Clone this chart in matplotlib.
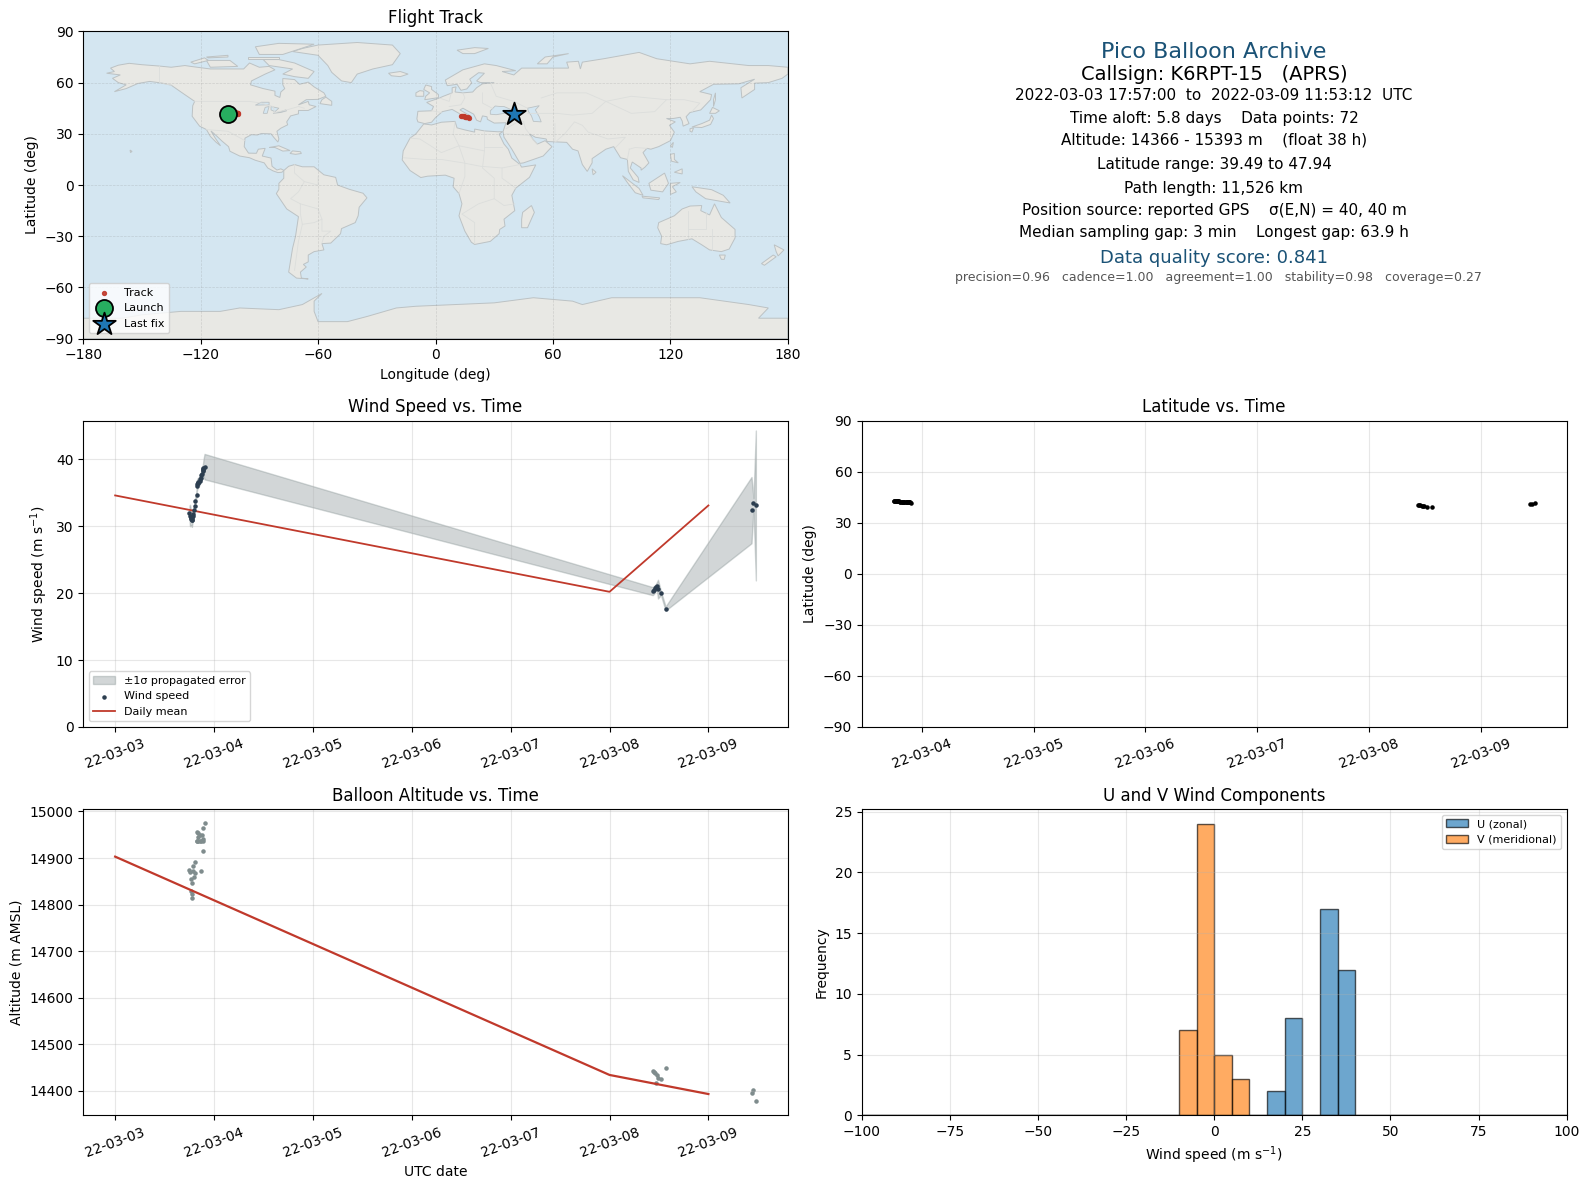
import numpy as np
import pandas as pd
import matplotlib
matplotlib.use("Agg")
import matplotlib.pyplot as plt
import matplotlib.dates as mdates
from matplotlib.patches import Polygon

# flight samples, days after 2022-03-03 00:00 UTC
days = [0.752, 0.757, 0.766, 0.772, 0.776, 0.779, 0.782, 0.787, 0.790, 0.797, 0.803, 0.810, 0.823, 0.826,
        0.830, 0.836, 0.840, 0.843, 0.856, 0.860, 0.865, 0.872, 0.878, 0.885, 0.888, 0.890, 0.893, 0.904,
        5.437, 5.450, 5.460, 5.470, 5.478, 5.490, 5.520, 5.567,
        6.436, 6.456, 6.480]
speed = [32.0, 31.6, 31.3, 31.1, 30.9, 31.0, 31.2, 31.5, 31.8, 32.4, 33.0, 33.8, 34.7, 36.0,
         36.3, 36.4, 36.5, 36.6, 36.8, 37.0, 37.2, 37.6, 37.8, 38.2, 38.4, 38.5, 38.7, 38.9,
         20.3, 20.5, 20.7, 20.9, 21.1, 20.6, 20.0, 17.7,
         32.4, 33.4, 33.1]
speed_err = [1.0, 1.6, 1.2, 1.0, 1.0, 0.8, 0.7, 0.6, 0.6, 0.5, 0.5, 0.5, 0.5, 0.8,
             0.8, 0.7, 0.7, 0.7, 0.6, 0.6, 0.7, 0.7, 0.8, 0.8, 0.9, 1.0, 1.2, 1.9,
             0.6, 0.6, 0.5, 0.5, 0.5, 1.4, 0.3, 0.3,
             4.95, 0.8, 11.2]
altitude = [14875, 14870, 14855, 14830, 14815, 14847, 14823, 14883, 14873, 14860, 14892, 14868, 14936, 14956,
            14936, 14953, 14936, 14945, 14950, 14936, 14872, 14936, 14950, 14915, 14940, 14965, 14936, 14975,
            14442, 14441, 14439, 14417, 14433, 14428, 14426, 14449,
            14395, 14402, 14377]
latitude = [42.7, 42.7, 42.7, 42.7, 42.7, 42.6, 42.6, 42.6, 42.6, 42.6, 42.5, 42.5, 42.5, 42.4,
            42.4, 42.4, 42.3, 42.3, 42.3, 42.2, 42.2, 42.2, 42.1, 42.1, 42.1, 42.0, 42.0, 41.9,
            40.4, 40.4, 40.3, 40.2, 40.1, 39.9, 39.6, 39.5,
            41.0, 41.3, 41.7]
longitude = [-105.0, -104.8, -104.6, -104.4, -104.2, -104.0, -103.8, -103.6, -103.4, -103.2, -103.0, -102.8,
             -102.6, -102.4, -102.3, -102.2, -102.1, -102.0, -101.9, -101.8, -101.7, -101.6, -101.5, -101.4,
             -101.3, -101.2, -101.1, -101.0,
             13.0, 13.5, 14.0, 14.5, 15.0, 15.6, 16.4, 17.3,
             40.0, 40.2, 40.3]
u_wind = [22.5, 23.0, 31.0, 30.8, 30.7, 30.8, 31.0, 31.3, 31.6, 32.0, 32.6, 33.4, 34.0, 34.5, 34.8, 34.9,
          35.2, 35.4, 35.6, 35.8, 36.0, 36.3, 36.5, 36.8, 37.2, 37.6, 38.0, 38.6,
          20.1, 20.3, 20.5, 20.7, 21.0, 20.4, 19.9, 17.7,
          32.3, 33.4, 33.1]
v_wind = [-5.5, -6.2, -7.1, -8.0, -4.8, -4.5, -4.2, -3.9, -3.7, -3.4, -3.2, -3.0, -2.8, -2.6, -2.4, -2.2,
          -2.0, -1.8, -1.6, -1.4, -1.2, -1.0, -0.8, -0.7, -0.6, -0.5, -0.4, -0.3,
          1.2, 2.0, 2.8, 3.5, 4.4, 5.6, 6.8, 7.9,
          -5.6, -6.4, -7.2]

daily_dates = ["2022-03-03", "2022-03-08", "2022-03-09"]
daily_speed = [34.6, 20.2, 33.1]
daily_altitude = [14903, 14434, 14393]

launch_lon, launch_lat = -105.9, 41.9
last_lon, last_lat = 40.3, 41.8

info_lines = [
    "Pico Balloon Archive",
    "Callsign: K6RPT-15   (APRS)",
    "2022-03-03 17:57:00  to  2022-03-09 11:53:12  UTC",
    "Time aloft: 5.8 days    Data points: 72",
    "Altitude: 14366 - 15393 m    (float 38 h)",
    "Latitude range: 39.49 to 47.94",
    "Path length: 11,526 km",
    "Position source: reported GPS    σ(E,N) = 40, 40 m",
    "Median sampling gap: 3 min    Longest gap: 63.9 h",
    "Data quality score: 0.841",
    "precision=0.96   cadence=1.00   agreement=1.00   stability=0.98   coverage=0.27",
]
info_x = [1214, 1214, 1214, 1214, 1214, 1214, 1214, 1214, 1214, 1214, 1218]
info_y = [52, 75, 95, 118, 140, 164, 188, 211, 233, 258, 278]
info_size = [16, 14, 11, 11, 11, 11, 11, 11, 11, 13, 9]
info_color = ["#1a5276", "black", "black", "black", "black", "black", "black", "black", "black", "#1a5276", "#555555"]

# rough coastlines, (lon, lat)
land = [
    [(-168, 65.5), (-164, 66.5), (-166, 68.5), (-162, 70.2), (-156.5, 71.3), (-150, 70.5), (-141, 69.7), (-135, 69),
     (-128, 70), (-125, 69.5), (-115, 68), (-108, 68), (-98, 68), (-95, 71.5), (-90, 69), (-85, 69.5), (-82, 67.5),
     (-87, 65), (-94, 61), (-94.5, 58.7), (-88, 56.5), (-82, 55), (-82, 52.5), (-79.5, 51.3), (-79, 54.5), (-77, 56.5),
     (-78, 58.8), (-78, 62.4), (-72, 61.8), (-69.5, 59), (-65, 60.3), (-62, 57.5), (-57, 54), (-56, 52), (-60, 50.2),
     (-66, 50), (-70, 47), (-65, 49), (-64.5, 47), (-61, 46), (-65, 43.7), (-70, 43.7), (-70, 41.7), (-74, 40.5),
     (-76, 37), (-75.5, 35.3), (-79, 33.3), (-81, 31.5), (-80, 27), (-80.5, 25.2), (-82.5, 27.8), (-84, 30), (-89, 30.2),
     (-91, 29.3), (-94, 29.5), (-97.3, 27.5), (-97.7, 22.5), (-95.5, 18.7), (-91.5, 18.6), (-90.5, 21), (-87, 21.5),
     (-88.5, 17), (-84, 15.8), (-83.5, 11), (-81, 8.8), (-79, 9.5), (-77.3, 8.5), (-78.5, 7.5), (-80.5, 7.3), (-83, 8.3),
     (-85.7, 10), (-87.5, 13), (-92, 14.5), (-95, 16), (-100, 17), (-105, 19.8), (-105.7, 22.5), (-109, 25.7),
     (-112.5, 29.5), (-114.7, 31.7), (-112.5, 27.5), (-109.8, 23), (-112, 25), (-115, 28.5), (-117, 32.5), (-120.5, 34.5),
     (-124.3, 40.3), (-124, 46.5), (-123, 49), (-130, 54.5), (-135, 58.5), (-140, 59.8), (-146, 60.7), (-152, 59.5),
     (-158, 56.5), (-164, 54.7), (-158, 58.7), (-162, 60), (-165, 62.5), (-161, 64.5)],
    [(-73, 78.2), (-68, 80), (-60, 82), (-40, 83.5), (-22, 82), (-18, 77), (-22, 70.5), (-32, 68), (-40, 65), (-43, 60),
     (-48, 61), (-53, 66), (-55, 70), (-60, 76)],
    [(-80, 73.5), (-72, 71.5), (-62, 66.5), (-65, 62.5), (-72, 63.5), (-78, 65), (-73, 68), (-85, 70), (-88, 73.5)],
    [(-117, 73), (-105, 73), (-101, 69.5), (-115, 69)],
    [(-90, 76.5), (-78, 76.5), (-62, 82.5), (-80, 83), (-92, 81)],
    [(-125, 72), (-118, 74.5), (-116, 73), (-123, 71)],
    [(-96, 75), (-80, 75), (-80, 74), (-96, 74)],
    [(-117, 75), (-106, 76), (-106, 75), (-116, 74.5)],
    [(-59, 47.7), (-53, 46.7), (-53, 49), (-56, 51.5), (-58, 50)],
    [(-85, 22), (-80, 23), (-74.3, 20.2), (-78, 19.9), (-82, 22)],
    [(-74.3, 18.5), (-73, 20), (-69, 19.5), (-68.5, 18.5), (-71.5, 18)],
    [(-156, 20.5), (-155, 19.7), (-155.8, 19)],
    [(-77.5, 8.5), (-75, 11), (-72, 12), (-68, 10.7), (-62, 10.7), (-57, 6), (-51, 4.5), (-50, 0), (-44, -2.5), (-37, -4.8),
     (-35, -7.5), (-39, -13), (-39.5, -18), (-41, -22), (-48, -25.5), (-48.5, -28.5), (-53.5, -34), (-58, -34.3), (-57, -38),
     (-62, -39), (-65, -41), (-65, -45), (-67.5, -46.5), (-66, -48), (-69, -51), (-68.5, -54.5), (-65, -55), (-71, -54.5),
     (-75, -51), (-74, -44), (-73, -37), (-71.5, -30), (-70, -18.5), (-76, -14), (-81.3, -5), (-80, -2.5), (-80, 1), (-77.5, 4)],
    [(-6, 35.8), (-2, 35.2), (3, 36.8), (10, 37.3), (11, 33.5), (15, 32.3), (20, 31), (20, 32.8), (25, 31.7), (32, 31.2),
     (34.3, 31.3), (32.5, 29.8), (35, 24), (37.2, 21), (39, 15.8), (43.2, 12), (44, 10.5), (51.2, 11.8), (48, 4.5), (41, -1.8),
     (39, -6), (40.5, -15), (35, -20), (35.5, -24), (32.8, -26), (32.5, -28.5), (28, -33), (20, -34.8), (18.3, -33.5),
     (15, -27), (12, -18), (13.5, -11), (12, -5), (9, -1), (9.5, 4), (5, 5.8), (-4, 5.2), (-7.5, 4.4), (-13, 8.5), (-17, 14.7),
     (-16.5, 20), (-13, 27.5), (-10, 30)],
    [(-9, 37), (-9.5, 38.8), (-9, 43.2), (-2, 43.5), (-1, 46), (-4.5, 48.4), (2, 51), (4, 52), (8.5, 54), (8.5, 57), (10.5, 57.5),
     (10, 54.5), (14, 54), (19, 54.5), (21, 57), (24, 59.3), (30, 60), (23, 60), (21, 61), (25, 65.5), (22, 65.8), (17.5, 62),
     (18.5, 59.8), (16, 56.3), (13, 55.5), (11, 59), (6, 58.2), (5, 61.5), (14, 67.5), (25, 71), (31, 70), (41, 67), (34, 66.5),
     (40, 64.5), (44, 68.5), (54, 68.5), (68, 68.5), (67, 72), (73, 72.5), (74, 68), (75, 72), (86, 74), (104, 77.7), (113, 74),
     (130, 71), (140, 72.5), (160, 70), (170, 70), (180, 69), (180, 65), (177, 62.5), (170, 60), (163, 59.7), (163, 56),
     (156.5, 51), (156, 57), (163, 62), (155, 59.3), (142, 59), (135, 54.7), (141, 53), (140.5, 50), (135.5, 44), (130, 42.5),
     (128, 40), (129.5, 36), (126.5, 34.5), (126, 37.5), (125, 39.7), (121.5, 39), (118, 39), (122.5, 37), (119.5, 35), (122, 31),
     (120, 26), (114, 22.5), (110, 21), (108, 21.5), (106, 19), (109, 13), (107, 10.5), (105, 8.7), (105, 10), (100.5, 13.5),
     (99.5, 10), (103.5, 4.5), (104, 1.5), (101, 3), (98.5, 8), (98, 15), (94.5, 16), (91, 22.5), (87, 21), (80, 15.5), (80, 13),
     (77.5, 8), (75, 12), (72.8, 20), (70, 21), (67, 25), (57, 25.5), (56.5, 27), (51, 28), (48, 30), (50, 26.5), (52, 24), (56, 26),
     (59.5, 22.5), (55, 17), (45, 13), (43.2, 12.7), (39, 21), (35, 28), (34.5, 31.3), (36, 36.5), (30, 36.3), (26.5, 38.5),
     (26.3, 40), (24, 40.5), (23, 37), (21, 38), (19.5, 41.5), (14, 45), (12.5, 44), (18.5, 40), (16, 38), (12, 42), (8.5, 44.3),
     (3.5, 43), (0, 39.5), (-2, 36.8), (-5.5, 36)],
    [(-5.5, 50), (1.5, 51.2), (1.5, 53), (-2, 56), (-2, 57.7), (-5, 58.6), (-6, 56), (-3, 54), (-5, 52)],
    [(-10, 52), (-6, 52), (-6, 55), (-8, 55.3), (-10, 54)],
    [(-24, 65.5), (-18, 66.5), (-14, 65), (-18, 63.5), (-22.5, 64)],
    [(11, 79), (20, 80.5), (27, 80), (20, 77), (14, 77)],
    [(52, 71), (56, 75), (68, 77), (60, 75), (57, 71)],
    [(142, 46), (143, 50), (143, 54), (142, 50)],
    [(131, 34), (136, 36), (140, 38), (141, 41), (142, 39), (140.5, 35.5), (136, 33.7)],
    [(140, 42), (141.5, 45.5), (145, 43.5), (143, 42)],
    [(130, 33), (131.8, 33.5), (131, 31), (130, 31.5)],
    [(120, 23), (121.5, 25), (121, 22)],
    [(80, 9.5), (82, 7.5), (80.5, 6)],
    [(120, 18), (122, 18.5), (122, 15), (124, 13), (120.5, 14)],
    [(122, 7.5), (126, 9.5), (126, 6.5)],
    [(95.5, 5.5), (104, -2), (106, -6), (102, -4.5), (98, 1.5)],
    [(105.5, -6.5), (114.5, -7.5), (114, -8.5), (106, -7.5)],
    [(109, 1), (117, 7), (119, 1), (116, -4), (110, -3)],
    [(120, -5.5), (120, 1), (125, 1.5), (121, -1), (123, -4)],
    [(131, -1), (141, -2.7), (147, -6), (150.5, -10.5), (143, -9), (138, -8), (133, -4)],
    [(114, -22), (122, -18), (126, -14), (130, -12.3), (136, -12), (135.5, -15), (140, -17.5), (142.5, -11), (146, -19), (153, -26),
     (153, -31), (150, -37.5), (146, -39), (140, -38), (136, -35), (131, -31.5), (124, -33), (118, -35), (115, -34.3), (115.5, -30), (113.5, -25)],
    [(145, -41), (148, -41), (147.5, -43.5), (146, -43.5)],
    [(173, -35), (178, -38), (175, -41.5), (174, -39)],
    [(172.5, -41), (174, -42), (168, -47), (166.5, -46)],
    [(49, -12), (50.5, -16), (47, -25), (44, -25), (44, -20), (44.5, -16)],
    [(-180, -90), (-180, -78), (-160, -78), (-150, -76), (-130, -74), (-110, -74), (-100, -72), (-80, -73), (-68, -70), (-58, -63.5),
     (-62, -68), (-62, -74), (-60, -80), (-45, -80), (-35, -77), (-20, -72), (-10, -71), (10, -70), (30, -69), (50, -66), (70, -68),
     (75, -70), (90, -66), (110, -66), (135, -66), (160, -70), (170, -72), (165, -78), (180, -78), (180, -90)],
]
water = [
    [(28, 41.5), (31, 41.2), (35, 42), (41.5, 41.5), (39, 44), (37, 45), (35, 46), (33, 46), (30.5, 46.3), (28, 43.5)],
    [(47, 45), (53, 46.5), (51, 44), (53, 40), (54, 37), (50, 37.3), (49, 40.5), (47.5, 43)],
    [(-92, 46.8), (-85, 47), (-85, 48.5), (-89, 48.5)],
    [(-88, 42), (-86, 42), (-85, 46), (-87, 45.5)],
    [(-84, 46), (-80, 45), (-82, 43), (-84, 44)],
    [(-83, 42), (-79, 43), (-76.5, 44), (-76, 43.5), (-79, 42.5)],
]
borders = [
    [(-123, 49), (-95, 49), (-89, 48), (-83, 46), (-82, 42.5), (-76, 44), (-70, 46), (-67, 45)],
    [(-141, 69.7), (-141, 60), (-135, 58.5)],
    [(-117, 32.5), (-106, 31.5), (-97.3, 26)],
    [(-72, 12), (-72, 7), (-67, 2), (-70, -4), (-74, -8), (-69, -11), (-69, -17), (-68, -23), (-70, -33), (-72, -50)],
    [(-60, 5), (-60, 0), (-67, 2)],
    [(-58, -20), (-58, -27), (-53.5, -27), (-57, -30), (-58, -34)],
    [(-69, -11), (-60, -14), (-58, -20), (-62, -22), (-68, -23)],
    [(-13, 27.5), (-8, 27), (3, 19), (12, 23), (25, 20), (25, 31.7)],
    [(-16.5, 16), (-5, 15), (3, 15), (14, 13), (23, 11), (34, 10), (43, 12)],
    [(10, 37), (9, 30), (12, 23), (15, 13), (15, 5), (12, -5)],
    [(25, 20), (24, 10), (30, 4), (30, -8), (22, -11), (13.5, -17), (20, -22), (20, -34)],
    [(30, -8), (35, -12), (40.5, -11)],
    [(34, 22), (25, 22)],
    [(41, -1.8), (34, 4), (34, 10)],
    [(-2, 43.5), (3, 42.5)],
    [(2, 51), (7, 49), (8, 54)],
    [(14, 54), (15, 51), (13, 47), (7, 46)],
    [(24, 54), (24, 48), (29, 45)],
    [(28, 60), (31, 52), (40, 49), (47, 45)],
    [(47, 42), (62, 42), (70, 41), (80, 42), (87, 49), (100, 52), (118, 50), (127, 50), (135, 48), (131, 43)],
    [(54, 51), (62, 54), (77, 54), (87, 49)],
    [(87, 49), (100, 42), (112, 43), (118, 50)],
    [(61, 36), (61, 25), (66, 30), (71, 37), (75, 35), (78, 31), (88, 27), (97, 28), (92, 22)],
    [(45, 37), (46, 33), (48, 30)],
    [(36, 33), (42, 37), (45, 37)],
    [(36, 30), (48, 29), (52, 24)],
    [(99, 21), (102, 22), (108, 21.5)],
    [(99, 21), (98, 15)],
    [(129, -15), (129, -31.5)],
    [(138, -16), (138, -26), (129, -26)],
    [(141, -26), (141, -38)],
]

times = pd.Timestamp("2022-03-03") + pd.to_timedelta(days, unit="D")
daily_times = pd.to_datetime(daily_dates)
speed_arr = np.array(speed)
err_arr = np.array(speed_err)

fig = plt.figure(figsize=(15.9, 11.89), dpi=100)


def axes_px(left, right, top, bottom):
    return fig.add_axes([left / 1590, 1 - bottom / 1189, (right - left) / 1590, (bottom - top) / 1189])


COL1 = (83.1, 787.9)
COL2 = (861.9, 1566.6)
ROW1 = (31.4, 338.7)
ROW2 = (420.8, 727.0)
ROW3 = (809.2, 1115.4)

# map
ax_map = axes_px(*COL1, *ROW1)
ax_map.set_facecolor("#d4e6f1")
for poly in land:
    ax_map.add_patch(Polygon(poly, closed=True, facecolor="#e8e8e4", edgecolor="#bcc2c4", linewidth=0.7, zorder=1))
for poly in water:
    ax_map.add_patch(Polygon(poly, closed=True, facecolor="#d4e6f1", edgecolor="#bcc2c4", linewidth=0.6, zorder=1.1))
for line in borders:
    lon, lat = zip(*line)
    ax_map.plot(lon, lat, color="#dcdedc", linewidth=0.6, zorder=1.2)
ax_map.grid(True, linestyle="--", color="gray", alpha=0.25, linewidth=0.5)
ax_map.scatter(longitude, latitude, s=8, color="#c0392b", alpha=0.9, label="Track", zorder=3)
ax_map.scatter(launch_lon, launch_lat, s=150, color="#27ae60", edgecolor="black", linewidth=1.3, label="Launch", zorder=4)
ax_map.scatter(last_lon, last_lat, s=290, marker="*", color="#1f77b4", edgecolor="black", linewidth=1.3, label="Last fix", zorder=4)
ax_map.set_xlim(-180, 180)
ax_map.set_ylim(-90, 90)
ax_map.set_xticks(range(-180, 181, 60))
ax_map.set_yticks(range(-90, 91, 30))
ax_map.set_xlabel("Longitude (deg)")
ax_map.set_ylabel("Latitude (deg)")
ax_map.set_title("Flight Track")
ax_map.legend(loc="lower left", fontsize=8)

# summary text
for txt, xpx, ypx, size, col in zip(info_lines, info_x, info_y, info_size, info_color):
    fig.text(xpx / 1590, 1 - ypx / 1189, txt, fontsize=size, color=col, ha="center", va="center")

# wind speed
ax_wind = axes_px(*COL1, *ROW2)
ax_wind.fill_between(times, speed_arr - err_arr, speed_arr + err_arr, color="#7f8c8d", alpha=0.35,
                     label="±1σ propagated error")
ax_wind.scatter(times, speed, s=5, color="#2c3e50", label="Wind speed", zorder=3)
ax_wind.plot(daily_times, daily_speed, color="#c0392b", linewidth=1.3, label="Daily mean")
ax_wind.set_ylim(0, 45.75)
ax_wind.set_ylabel(r"Wind speed (m s$^{-1}$)")
ax_wind.set_title("Wind Speed vs. Time")
ax_wind.legend(loc="lower left", fontsize=8)

# latitude
ax_lat = axes_px(*COL2, *ROW2)
ax_lat.scatter(times, latitude, s=5, color="black")
ax_lat.set_ylim(-90, 90)
ax_lat.set_yticks(range(-90, 91, 30))
ax_lat.set_ylabel("Latitude (deg)")
ax_lat.set_title("Latitude vs. Time")

# altitude
ax_alt = axes_px(*COL1, *ROW3)
ax_alt.scatter(times, altitude, s=5, color="#7f8c8d")
ax_alt.plot(daily_times, daily_altitude, color="#c0392b", linewidth=1.6)
ax_alt.set_xlabel("UTC date")
ax_alt.set_ylabel("Altitude (m AMSL)")
ax_alt.set_title("Balloon Altitude vs. Time")

for ax in (ax_wind, ax_lat, ax_alt):
    ax.xaxis.set_major_locator(mdates.DayLocator())
    ax.xaxis.set_major_formatter(mdates.DateFormatter("%y-%m-%d"))
    ax.tick_params(axis="x", labelrotation=20)
    ax.grid(True, alpha=0.3)

# U / V histogram
ax_hist = axes_px(*COL2, *ROW3)
bins = np.arange(-100, 105, 5)
ax_hist.hist(u_wind, bins=bins, alpha=0.65, edgecolor="black", label="U (zonal)")
ax_hist.hist(v_wind, bins=bins, alpha=0.65, edgecolor="black", label="V (meridional)")
ax_hist.set_xlim(-100, 100)
ax_hist.set_xlabel(r"Wind speed (m s$^{-1}$)")
ax_hist.set_ylabel("Frequency")
ax_hist.set_title("U and V Wind Components")
ax_hist.grid(True, alpha=0.3)
ax_hist.legend(loc="upper right", fontsize=8)

plt.savefig("out.png", dpi=100)
